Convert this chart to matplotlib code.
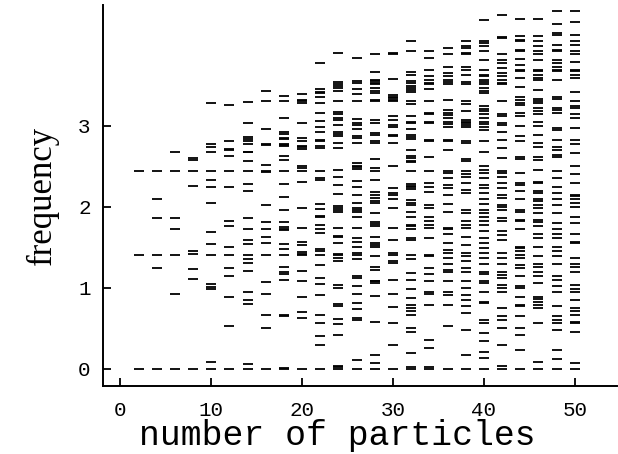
import numpy as np
import matplotlib
matplotlib.use("Agg")
import matplotlib.pyplot as plt

# vibrational frequencies, one list per cluster size
particles = [2, 4, 6, 8, 10, 12, 14, 16, 18, 20, 22, 24, 26,
             28, 30, 32, 34, 36, 38, 40, 42, 44, 46, 48, 50]

f02 = [2.44, 1.41, 0.0]
f04 = [2.44, 2.10, 1.86, 1.41, 1.25, 0.0]
f06 = [2.67, 2.44, 1.86, 1.73, 1.41, 0.92, 0.0]
f08 = [2.60, 2.58, 2.44, 2.26, 1.45, 1.42, 1.23, 1.11, 0.0]
f10 = [3.28, 2.77, 2.74, 2.68, 2.44, 2.33, 2.24, 2.05, 1.69, 1.54, 1.41,
       1.05, 1.01, 0.98, 0.09, 0.0]
f12 = [3.25, 2.81, 2.71, 2.70, 2.63, 2.44, 2.25, 1.83, 1.76, 1.51, 1.41,
       1.24, 1.15, 0.89, 0.53, 0.0]
f14 = [3.29, 3.04, 2.86, 2.84, 2.81, 2.77, 2.68, 2.67, 2.56, 2.44, 2.28,
       2.19, 1.86, 1.72, 1.59, 1.54, 1.41, 1.36, 1.31, 1.21, 0.95, 0.85,
       0.80, 0.06, 0.0]
f16 = [3.43, 3.30, 2.96, 2.77, 2.76, 2.52, 2.44, 2.43, 2.02, 1.81, 1.72,
       1.63, 1.55, 1.41, 1.07, 0.92, 0.67, 0.50, 0.0]
f18 = [3.37, 3.30, 3.10, 2.92, 2.90, 2.85, 2.84, 2.77, 2.76, 2.75, 2.63,
       2.58, 2.44, 2.28, 2.12, 1.96, 1.81, 1.75, 1.73, 1.71, 1.54, 1.48,
       1.41, 1.26, 1.19, 1.17, 1.10, 0.67, 0.65, 0.01, 0.0]
f20 = [3.39, 3.32, 3.30, 3.28, 3.03, 2.85, 2.81, 2.75, 2.74, 2.71, 2.50,
       2.48, 2.44, 2.31, 1.98, 1.74, 1.56, 1.53, 1.44, 1.42, 1.40, 1.21,
       1.08, 0.89, 0.70, 0.63, 0.0]
f22 = [3.78, 3.45, 3.42, 3.40, 3.35, 3.28, 3.16, 3.06, 2.98, 2.92, 2.83,
       2.81, 2.75, 2.72, 2.44, 2.35, 2.33, 2.03, 1.97, 1.89, 1.87, 1.77,
       1.72, 1.68, 1.48, 1.45, 1.41, 1.28, 1.12, 1.05, 0.91, 0.67, 0.56,
       0.40, 0.29, 0.0]
f24 = [3.90, 3.54, 3.51, 3.49, 3.47, 3.43, 3.31, 3.17, 3.14, 3.10, 3.07,
       3.01, 2.92, 2.90, 2.87, 2.79, 2.72, 2.46, 2.37, 2.27, 2.16, 2.01,
       1.98, 1.96, 1.94, 1.74, 1.64, 1.63, 1.55, 1.42, 1.40, 1.37, 1.33,
       1.04, 1.00, 0.80, 0.78, 0.61, 0.55, 0.42, 0.04, 0.02, 0.0]
f26 = [3.84, 3.55, 3.53, 3.45, 3.39, 3.31, 3.08, 3.03, 3.01, 2.96, 2.87,
       2.85, 2.79, 2.54, 2.50, 2.49, 2.47, 2.32, 2.25, 2.15, 2.05, 1.98,
       1.96, 1.93, 1.87, 1.74, 1.61, 1.57, 1.50, 1.43, 1.40, 1.35, 1.14,
       1.12, 1.02, 0.93, 0.81, 0.74, 0.63, 0.60, 0.11, 0.0]
f28 = [3.89, 3.66, 3.57, 3.55, 3.53, 3.51, 3.47, 3.43, 3.40, 3.32, 3.30,
       3.07, 3.04, 2.91, 2.88, 2.81, 2.79, 2.59, 2.48, 2.44, 2.33, 2.18,
       2.15, 2.11, 2.07, 2.05, 1.92, 1.81, 1.79, 1.76, 1.63, 1.55, 1.53,
       1.51, 1.39, 1.26, 1.22, 1.09, 1.08, 1.06, 0.90, 0.58, 0.17, 0.07, 0.0]
f30 = [3.90, 3.89, 3.58, 3.38, 3.36, 3.34, 3.32, 3.30, 3.12, 3.07, 3.01,
       2.99, 2.89, 2.87, 2.79, 2.50, 2.23, 2.17, 2.15, 2.09, 1.98, 1.74,
       1.59, 1.43, 1.41, 1.33, 1.31, 1.10, 0.93, 0.76, 0.56, 0.30, 0.0]
f32 = [4.04, 3.92, 3.66, 3.63, 3.55, 3.53, 3.49, 3.46, 3.44, 3.42, 3.31,
       3.27, 3.12, 3.05, 3.03, 2.96, 2.88, 2.86, 2.84, 2.70, 2.63, 2.60,
       2.57, 2.55, 2.44, 2.28, 2.26, 2.24, 2.22, 2.08, 2.05, 2.02, 1.93,
       1.88, 1.78, 1.76, 1.72, 1.61, 1.59, 1.41, 1.35, 1.18, 1.10, 0.98,
       0.87, 0.79, 0.75, 0.71, 0.67, 0.50, 0.46, 0.19, 0.02, 0.0]
f34 = [3.92, 3.84, 3.69, 3.61, 3.57, 3.53, 3.51, 3.45, 3.30, 3.16, 3.14,
       3.05, 3.03, 2.83, 2.81, 2.62, 2.44, 2.29, 2.25, 2.18, 2.02, 1.99,
       1.87, 1.82, 1.78, 1.74, 1.61, 1.41, 1.39, 1.24, 1.17, 1.09, 0.95,
       0.93, 0.79, 0.36, 0.26, 0.02, 0.0]
f36 = [3.96, 3.88, 3.73, 3.65, 3.62, 3.56, 3.54, 3.51, 3.32, 3.19, 3.16,
       3.13, 3.09, 3.05, 3.02, 2.99, 2.83, 2.81, 2.70, 2.44, 2.42, 2.35,
       2.27, 2.23, 2.15, 2.03, 1.93, 1.74, 1.72, 1.67, 1.55, 1.47, 1.43,
       1.37, 1.30, 1.22, 1.20, 1.08, 0.95, 0.91, 0.79, 0.53, 0.0]
f38 = [4.05, 3.98, 3.96, 3.90, 3.88, 3.72, 3.69, 3.63, 3.54, 3.51, 3.30,
       3.27, 3.18, 3.07, 3.05, 3.03, 3.01, 2.98, 2.81, 2.79, 2.59, 2.57,
       2.44, 2.40, 2.37, 2.29, 2.21, 2.17, 1.96, 1.92, 1.82, 1.78, 1.74,
       1.63, 1.53, 1.43, 1.39, 1.33, 1.24, 1.20, 1.08, 1.00, 0.91, 0.85,
       0.77, 0.69, 0.48, 0.17, 0.0]
f40 = [4.31, 4.05, 4.02, 3.98, 3.92, 3.81, 3.69, 3.63, 3.61, 3.57, 3.54,
       3.51, 3.47, 3.43, 3.40, 3.24, 3.21, 3.18, 3.14, 3.09, 3.05, 3.02,
       2.99, 2.95, 2.81, 2.68, 2.50, 2.46, 2.42, 2.36, 2.27, 2.23, 2.17,
       2.09, 2.03, 1.96, 1.92, 1.87, 1.82, 1.78, 1.70, 1.61, 1.55, 1.49,
       1.43, 1.37, 1.30, 1.20, 1.17, 1.09, 1.06, 0.95, 0.83, 0.81, 0.60,
       0.56, 0.44, 0.34, 0.21, 0.13, 0.0]
f42 = [4.37, 4.10, 4.08, 3.88, 3.81, 3.77, 3.71, 3.65, 3.61, 3.57, 3.53,
       3.51, 3.30, 3.14, 3.12, 3.03, 3.01, 2.92, 2.83, 2.72, 2.60, 2.44,
       2.42, 2.37, 2.29, 2.23, 2.15, 2.11, 2.02, 2.00, 1.96, 1.86, 1.82,
       1.70, 1.65, 1.59, 1.43, 1.37, 1.30, 1.20, 1.16, 1.12, 1.04, 1.00,
       0.95, 0.75, 0.65, 0.60, 0.50, 0.30, 0.03, 0.0]
f44 = [4.32, 4.11, 4.06, 4.04, 3.94, 3.92, 3.82, 3.75, 3.69, 3.67, 3.59,
       3.48, 3.36, 3.32, 3.28, 3.25, 3.16, 3.12, 3.00, 2.87, 2.81, 2.62,
       2.59, 2.42, 2.29, 2.27, 2.19, 2.09, 1.96, 1.94, 1.84, 1.82, 1.72,
       1.51, 1.49, 1.45, 1.41, 1.37, 1.28, 1.24, 1.14, 1.02, 1.00, 0.89,
       0.79, 0.77, 0.65, 0.50, 0.42, 0.23, 0.0]
f46 = [4.32, 4.11, 4.04, 3.98, 3.92, 3.88, 3.81, 3.69, 3.67, 3.63, 3.59,
       3.57, 3.44, 3.33, 3.30, 3.28, 3.22, 3.18, 3.14, 3.05, 3.00, 2.88,
       2.79, 2.74, 2.62, 2.58, 2.46, 2.31, 2.29, 2.19, 2.17, 2.09, 2.07,
       2.02, 1.98, 1.92, 1.84, 1.81, 1.76, 1.67, 1.61, 1.51, 1.39, 1.30,
       1.26, 1.20, 1.14, 1.06, 0.89, 0.86, 0.83, 0.79, 0.75, 0.56, 0.09, 0.0]
f48 = [4.42, 4.25, 4.14, 4.12, 4.00, 3.94, 3.92, 3.81, 3.77, 3.73, 3.69,
       3.67, 3.57, 3.36, 3.33, 3.22, 3.20, 3.16, 2.97, 2.95, 2.83, 2.74,
       2.70, 2.64, 2.62, 2.44, 2.35, 2.25, 2.17, 2.09, 2.02, 1.92, 1.80,
       1.72, 1.67, 1.61, 1.51, 1.45, 1.39, 1.30, 1.14, 1.10, 1.02, 0.95,
       0.77, 0.65, 0.60, 0.56, 0.48, 0.23, 0.12, 0.0]
f50 = [4.41, 4.28, 4.12, 4.04, 4.00, 3.92, 3.88, 3.79, 3.69, 3.67, 3.63,
       3.59, 3.42, 3.30, 3.24, 3.22, 3.14, 3.09, 2.97, 2.83, 2.77, 2.66,
       2.50, 2.40, 2.29, 2.15, 2.13, 2.09, 2.05, 2.00, 1.88, 1.80, 1.67,
       1.57, 1.55, 1.37, 1.30, 1.26, 1.20, 1.04, 0.98, 0.95, 0.85, 0.75,
       0.71, 0.67, 0.58, 0.56, 0.45, 0.07, 0.0]

freqs = [f02, f04, f06, f08, f10, f12, f14, f16, f18, f20, f22, f24, f26,
         f28, f30, f32, f34, f36, f38, f40, f42, f44, f46, f48, f50]

mono = "Liberation Mono"
serif = "Liberation Serif"

fig = plt.figure(figsize=(6.18, 4.54), dpi=100)
ax = fig.add_axes([0.167, 0.150, 0.832, 0.839])

half = 0.55
for n, f in zip(particles, freqs):
    ax.hlines(f, n - half, n + half, colors="black", linewidth=1.3)

ax.set_xlim(-1.9, 54.7)
ax.set_ylim(-0.21, 4.49)

ax.spines["top"].set_visible(False)
ax.spines["right"].set_visible(False)
for s in ("left", "bottom"):
    ax.spines[s].set_linewidth(1.4)

ax.set_xticks([0, 10, 20, 30, 40, 50])
ax.set_yticks([0, 1, 2, 3])
ax.tick_params(direction="in", length=6, width=1.3)
ax.tick_params(axis="x", pad=11)
ax.tick_params(axis="y", pad=9)
for lab in ax.get_xticklabels() + ax.get_yticklabels():
    lab.set_fontfamily(mono)
    lab.set_fontsize(15)

ax.set_xlabel("number of particles", fontfamily=mono, fontsize=25)
ax.xaxis.label.set_va("baseline")
ax.xaxis.set_label_coords(0.455, -0.155)
ax.set_ylabel("frequency", fontfamily=serif, fontsize=25, labelpad=14)

fig.savefig("out.png", dpi=100)
